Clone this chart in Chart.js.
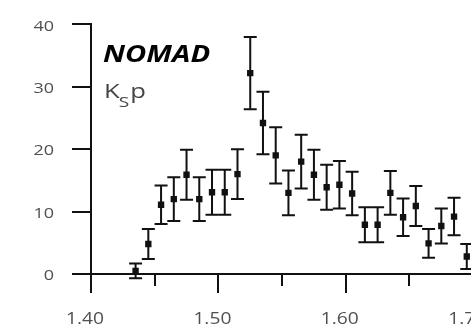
<!DOCTYPE html>
<html>
<head>
<meta charset="utf-8">
<script src="https://cdn.jsdelivr.net/npm/chart.js@4/dist/chart.umd.min.js"></script>
<style>
  html, body { margin: 0; padding: 0; overflow: hidden; background: #fff; }
  #wrap { width: 500px; height: 329px; }
</style>
</head>
<body>
<div id="wrap"><canvas id="c" width="500" height="329"></canvas></div>
<script>
// K_S p invariant-mass spectrum, events per 10 MeV bin
const binCenters = [1.435, 1.445, 1.455, 1.465, 1.475, 1.485, 1.495, 1.505, 1.515,
                    1.525, 1.535, 1.545, 1.555, 1.565, 1.575, 1.585, 1.595, 1.605,
                    1.615, 1.625, 1.635, 1.645, 1.655, 1.665, 1.675, 1.685, 1.695];
const counts = [0.5, 4.8, 11.1, 12.0, 15.9, 12.0, 13.1, 13.1, 16.0,
                32.2, 24.2, 19.0, 13.0, 18.0, 15.9, 13.9, 14.3, 12.9,
                7.9, 7.9, 13.0, 9.1, 10.9, 4.9, 7.7, 9.2, 2.8];
const errors = [1.2, 2.4, 3.1, 3.5, 4.0, 3.5, 3.6, 3.6, 4.0,
                5.8, 5.0, 4.5, 3.6, 4.3, 4.0, 3.6, 3.8, 3.5,
                2.8, 2.8, 3.5, 3.0, 3.2, 2.3, 2.8, 3.0, 2.0];
const xTicks = [1.40, 1.50, 1.60, 1.70];
const xMinorTicks = [1.45, 1.55, 1.65];
const yTicks = [0, 10, 20, 30, 40];

const ink = '#111';
const labelColor = '#505050';
const stretch = 1.2;   // typeface is drawn slightly wide

// vertical error bars with caps
const errorBars = {
  id: 'errorBars',
  afterDatasetsDraw(chart) {
    const { ctx, scales: { x, y } } = chart;
    ctx.save();
    ctx.strokeStyle = ink;
    ctx.lineWidth = 2;
    const cap = 6.5;
    binCenters.forEach((m, i) => {
      const px = x.getPixelForValue(m);
      const top = y.getPixelForValue(counts[i] + errors[i]);
      const bot = y.getPixelForValue(counts[i] - errors[i]);
      ctx.beginPath();
      ctx.moveTo(px, top); ctx.lineTo(px, bot);
      ctx.moveTo(px - cap, top); ctx.lineTo(px + cap, top);
      ctx.moveTo(px - cap, bot); ctx.lineTo(px + cap, bot);
      ctx.stroke();
    });
    ctx.restore();
  }
};

function wideText(ctx, text, x, y, sx) {
  ctx.save();
  ctx.translate(x, y);
  ctx.scale(sx, 1);
  ctx.fillText(text, 0, 0);
  ctx.restore();
}

// axis lines, tick marks and tick labels
const axisMarks = {
  id: 'axisMarks',
  afterDraw(chart) {
    const { ctx, scales: { x, y }, chartArea } = chart;
    const x0 = Math.round(x.getPixelForValue(1.40));
    const y0 = Math.round(y.getPixelForValue(0));
    const yTop = Math.round(y.getPixelForValue(40));
    ctx.save();
    ctx.strokeStyle = ink;
    ctx.lineWidth = 2;
    ctx.lineCap = 'butt';
    ctx.beginPath();
    // axes
    ctx.moveTo(x0, yTop - 1); ctx.lineTo(x0, y0 + 19);
    ctx.moveTo(x0 - 19, y0); ctx.lineTo(chartArea.right + 1, y0);
    xTicks.forEach(v => {
      const px = Math.round(x.getPixelForValue(v));
      ctx.moveTo(px, y0); ctx.lineTo(px, y0 + 19);
    });
    xMinorTicks.forEach(v => {
      const px = Math.round(x.getPixelForValue(v));
      ctx.moveTo(px, y0); ctx.lineTo(px, y0 + 12);
    });
    yTicks.forEach(v => {
      const py = Math.round(y.getPixelForValue(v));
      ctx.moveTo(x0, py); ctx.lineTo(x0 - 19, py);
    });
    ctx.stroke();

    ctx.fillStyle = labelColor;
    ctx.textAlign = 'center';
    ctx.textBaseline = 'alphabetic';
    ctx.font = '16px "Open Sans"';
    xTicks.forEach(v => {
      wideText(ctx, v.toFixed(2), x.getPixelForValue(v) - 6, y0 + 50, stretch);
    });
    ctx.textAlign = 'right';
    ctx.textBaseline = 'middle';
    ctx.font = '15px "Open Sans"';
    yTicks.forEach(v => {
      wideText(ctx, String(v), x0 - 37, y.getPixelForValue(v) + 2, stretch);
    });
    ctx.restore();
  }
};

// experiment name and channel label
const titles = {
  id: 'titles',
  afterDraw(chart) {
    const { ctx } = chart;
    ctx.save();
    ctx.textBaseline = 'alphabetic';
    ctx.textAlign = 'left';
    ctx.fillStyle = '#000';
    ctx.font = 'italic bold 23px "Open Sans"';
    wideText(ctx, 'NOMAD', 103, 62, 1.27);
    ctx.fillStyle = '#454545';
    const sx = 1.28;
    ctx.font = '20px "Open Sans"';
    wideText(ctx, 'K', 104, 98, sx);
    const kw = ctx.measureText('K').width * sx;
    ctx.font = '15px "Open Sans"';
    wideText(ctx, 'S', 104 + kw - 1, 107, sx);
    const sw = ctx.measureText('S').width * sx;
    ctx.font = '20px "Open Sans"';
    wideText(ctx, 'p', 104 + kw + sw, 98, sx);
    ctx.restore();
  }
};

const hidden = 'rgba(0,0,0,0)';

new Chart(document.getElementById('c'), {
  type: 'scatter',
  data: {
    datasets: [{
      data: binCenters.map((m, i) => ({ x: m, y: counts[i] })),
      pointStyle: 'rect',
      pointRadius: 4.5,
      pointBackgroundColor: ink,
      pointBorderWidth: 0,
      showLine: false
    }]
  },
  options: {
    responsive: false,
    animation: false,
    events: [],
    layout: { padding: { top: 24, right: 23.5, left: 0, bottom: 0 } },
    plugins: { legend: { display: false }, tooltip: { enabled: false } },
    scales: {
      x: {
        type: 'linear',
        min: 1.40,
        max: 1.70,
        afterBuildTicks(scale) { scale.ticks = xTicks.map(v => ({ value: v })); },
        afterFit(scale) { scale.height = 55; },
        border: { display: false },
        grid: { drawOnChartArea: false, drawTicks: true, tickLength: 19, tickColor: hidden },
        ticks: { color: hidden, font: { family: 'Open Sans', size: 14 }, padding: 13, maxRotation: 0,
                 callback: v => v.toFixed(2) }
      },
      y: {
        min: 0,
        max: 40,
        afterBuildTicks(scale) { scale.ticks = yTicks.map(v => ({ value: v })); },
        afterFit(scale) { scale.width = 91; },
        border: { display: false },
        grid: { drawOnChartArea: false, drawTicks: true, tickLength: 19, tickColor: hidden },
        ticks: { color: hidden, font: { family: 'Open Sans', size: 14 }, padding: 16,
                 callback: v => String(v) }
      }
    }
  },
  plugins: [errorBars, axisMarks, titles]
});
</script>
</body>
</html>
